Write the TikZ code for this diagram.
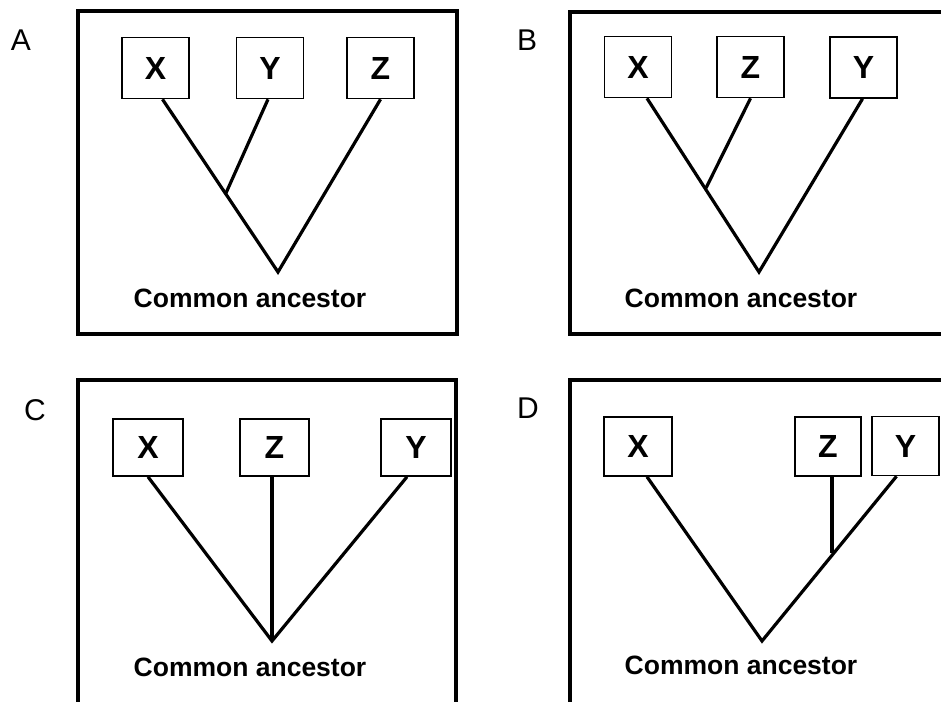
\documentclass[tikz,border=0pt]{standalone}
\usepackage{fontspec}
\setmainfont{Liberation Sans}
\usetikzlibrary{calc}

\tikzset{
  frame/.style={line width=3.5pt},
  taxon/.style={draw, line width=1.6pt, minimum width=67pt, minimum height=61pt,
    inner sep=0pt, font=\fontsize{32}{32}\selectfont\bfseries},
  branch/.style={line width=3.2pt},
  panel/.style={font=\fontsize{30}{30}\selectfont},
  anc/.style={font=\fontsize{26.5}{26.5}\selectfont\bfseries}
}

\begin{document}
\begin{tikzpicture}[x=1pt,y=-1pt]
        \useasboundingbox (0,0) rectangle (941,701);
        \clip (0,0) rectangle (941,701);
        % A
        \node[panel] (la) at (21,40) {A};
        \draw[frame] (78,11) rectangle (457,334);
        \node[taxon] (aX) at (155.5,68) {X};
        \node[taxon] (aY) at (270,68) {Y};
        \node[taxon] (aZ) at (380.5,68) {Z};
        \coordinate (aR) at (278,272);
        \coordinate (aJ) at (226,193);
        \node[anc] (aA) at (250,298) {Common ancestor};
        \draw[branch] ([xshift=7pt]aX.south)--(aR)--(aZ.south);
        \draw[branch] ([xshift=-2pt]aY.south)--(aJ);
        % B
        \node[panel] (lb) at (527,40) {B};
        \draw[frame] (570,12) rectangle (960,334);
        \node[taxon] (bX) at (638,67) {X};
        \node[taxon] (bZ) at (750.5,67) {Z};
        \node[taxon] (bY) at (863.5,67.5) {Y};
        \coordinate (bR) at (759,272);
        \coordinate (bJ) at (706,188);
        \node[anc] (bA) at (741,298) {Common ancestor};
        \draw[branch] ([xshift=9pt]bX.south)--(bR)--([xshift=-1pt]bY.south);
        \draw[branch] (bZ.south)--(bJ);
        % C
        \node[panel] (lc) at (35,410) {C};
        \draw[frame] (78,380) rectangle (456,720);
        \node[taxon, minimum width=70pt, minimum height=57pt] (cX) at (148,447.5) {X};
        \node[taxon, minimum width=69pt, minimum height=57pt] (cZ) at (274.5,447.5) {Z};
        \node[taxon, minimum width=70pt, minimum height=57pt] (cY) at (416,447.5) {Y};
        \coordinate (cR) at (272,641);
        \node[anc] (cA) at (250,667) {Common ancestor};
        \draw[branch] (cX.south)--(cR)--([xshift=-9pt]cY.south);
        \draw[branch] ([xshift=-2.5pt]cZ.south)--(cR);
        % D
        \node[panel] (ld) at (528,408) {D};
        \draw[frame] (570,380) rectangle (960,720);
        \node[taxon, minimum width=68pt, minimum height=59pt] (dX) at (638,446.5) {X};
        \node[taxon, minimum width=66pt, minimum height=59pt] (dZ) at (828,446.5) {Z};
        \node[taxon, minimum width=67pt, minimum height=59pt] (dY) at (905.5,446) {Y};
        \coordinate (dR) at (762,641);
        \coordinate (dJ) at (832,553);
        \node[anc] (dA) at (741,665) {Common ancestor};
        \draw[branch] ([xshift=9pt]dX.south)--(dR)--([xshift=-9pt]dY.south);
        \draw[branch] ([xshift=4pt]dZ.south)--(dJ);
\end{tikzpicture}
\end{document}
